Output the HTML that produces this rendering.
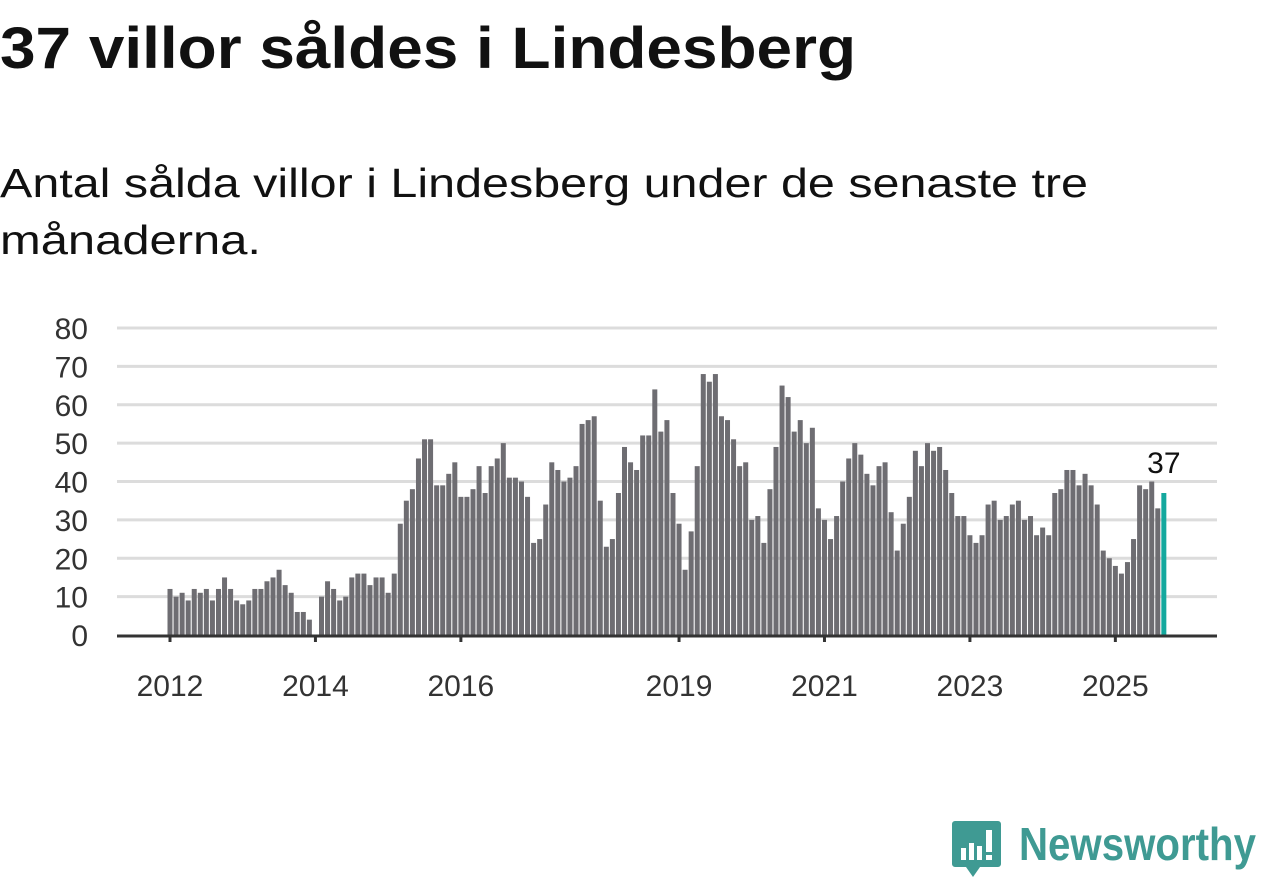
<!DOCTYPE html>
<html><head><meta charset="utf-8">
<style>
html,body{margin:0;padding:0;background:#fff;}
body{width:1262px;height:879px;overflow:hidden;position:relative;font-family:"Liberation Sans",sans-serif;}
svg{position:absolute;left:0;top:0;}
</style></head>
<body>
<svg width="1262" height="879">
  <text x="0" y="68" font-size="58" font-weight="bold" fill="#111" textLength="856" lengthAdjust="spacingAndGlyphs" font-family="Liberation Sans, sans-serif">37 villor såldes i Lindesberg</text>
  <text x="0" y="197" font-size="41" fill="#111" textLength="1088" lengthAdjust="spacingAndGlyphs" font-family="Liberation Sans, sans-serif">Antal sålda villor i Lindesberg under de senaste tre</text>
  <text x="0" y="254" font-size="41" fill="#111" textLength="261" lengthAdjust="spacingAndGlyphs" font-family="Liberation Sans, sans-serif">månaderna.</text>
</svg>
<svg id="chart" width="1262" height="879"></svg>
<script>
const startYear = 2012;
const values = [
12,10,11,9,12,11,12,9,12,15,12,9,
8,9,12,12,14,15,17,13,11,6,6,4,
null,10,14,12,9,10,15,16,16,13,15,15,
11,16,29,35,38,46,51,51,39,39,42,45,
36,36,38,44,37,44,46,50,41,41,40,36,
24,25,34,45,43,40,41,44,55,56,57,35,
23,25,37,49,45,43,52,52,64,53,56,37,
29,17,27,44,68,66,68,57,56,51,44,45,
30,31,24,38,49,65,62,53,56,50,54,33,
30,25,31,40,46,50,47,42,39,44,45,32,
22,29,36,48,44,50,48,49,43,37,31,31,
26,24,26,34,35,30,31,34,35,30,31,26,
28,26,37,38,43,43,39,42,39,34,22,20,
18,16,19,25,39,38,40,33,37
];
const yTicks = [0,10,20,30,40,50,60,70,80];
const xTickYears = [2012,2014,2016,2019,2021,2023,2025];
const highlightLabel = "37";

const svg = document.getElementById('chart');
const NS = 'http://www.w3.org/2000/svg';
const x0 = 170, pitch = 6.06, barW = 5;
const yZero = 635, yTop = 328, yMax = 80;
const xScale = i => x0 + i * pitch;
const yScale = v => yZero - (v / yMax) * (yZero - yTop);
function mk(tag, attrs){const e=document.createElementNS(NS,tag);for(const k in attrs)e.setAttribute(k,attrs[k]);svg.appendChild(e);return e;}

yTicks.forEach(t=>{
  const y=yScale(t);
  if(t>0){const g=mk('line',{x1:117,x2:1217,y1:y,y2:y,stroke:'#dcdcdc','stroke-width':3});
  
  }
  const l=mk('text',{x:88,y:y+11,'text-anchor':'end','font-size':30,fill:'#333','font-family':'Liberation Sans, sans-serif'});
  l.textContent=t;
  
  
});

values.forEach((v,i)=>{
  if(v===null) return;
  const last = i===values.length-1;
  const y=yScale(v);
  const b=mk('rect',{x:xScale(i)-barW/2,y:y,width:barW,height:yZero-y,fill:last?'#14a89e':'#6e6d72'});
  
  
});

const ax=mk('line',{x1:117,x2:1217,y1:yZero+1,y2:yZero+1,stroke:'#333','stroke-width':3});



xTickYears.forEach(yr=>{
  const x=xScale((yr-startYear)*12);
  const t=mk('line',{x1:x,x2:x,y1:yZero,y2:yZero+7,stroke:'#333','stroke-width':3});
  
  
  const l=mk('text',{x:x,y:696,'text-anchor':'middle','font-size':30,fill:'#333','font-family':'Liberation Sans, sans-serif'});
  l.textContent=yr;
  
  
});

const li=values.length-1;
const lbl=mk('text',{x:xScale(li),y:yScale(values[li])-20,'text-anchor':'middle','font-size':30,fill:'#111',stroke:'#fff','stroke-width':6,'paint-order':'stroke','font-family':'Liberation Sans, sans-serif'});
lbl.textContent=highlightLabel;


</script>
<svg width="1262" height="879" style="position:absolute;left:0;top:0">
  <path d="M955 821 h43 a3 3 0 0 1 3 3 v40 a3 3 0 0 1 -3 3 h-18 l-7 10 l-7 -10 h-11 a3 3 0 0 1 -3 -3 v-40 a3 3 0 0 1 3 -3z" fill="#3f9a93"/>
  <rect x="961" y="848" width="5" height="12" fill="#fff"/>
  <rect x="969" y="843" width="5" height="17" fill="#fff"/>
  <rect x="977" y="846" width="5" height="14" fill="#fff"/>
  <rect x="986" y="830" width="6" height="22" fill="#fff"/>
  <rect x="986" y="855" width="6" height="5" fill="#fff"/>
  <text x="1019" y="860" font-size="46" font-weight="bold" fill="#3f9a93" font-family="Liberation Sans, sans-serif" textLength="237" lengthAdjust="spacingAndGlyphs">Newsworthy</text>
</svg>
</body></html>
